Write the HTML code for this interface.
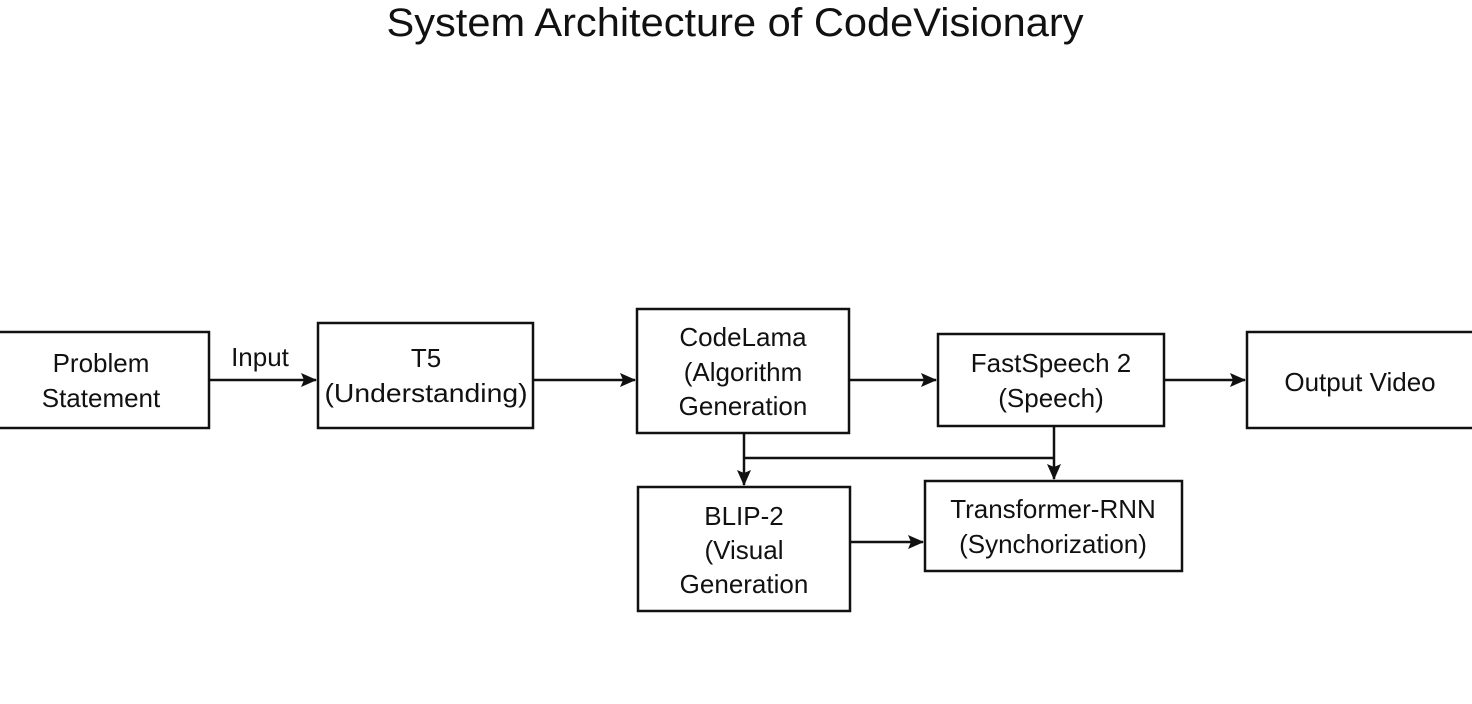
<!DOCTYPE html>
<html><head><meta charset="utf-8"><style>
html,body{margin:0;padding:0;background:#fff;width:1472px;height:704px;overflow:hidden}
svg{display:block}
text{font-family:"Liberation Sans",Arial,sans-serif;fill:#111}
</style></head><body>
<svg width="1472" height="704" viewBox="0 0 1472 704">
<defs><marker id="a" markerWidth="16" markerHeight="14" refX="15" refY="7" orient="auto" markerUnits="userSpaceOnUse"><path d="M0,0 L16,7 L0,14 L3,7 Z" fill="#111"/></marker></defs>
<text x="735" y="36" font-size="40" text-anchor="middle" textLength="697" lengthAdjust="spacingAndGlyphs">System Architecture of CodeVisionary</text>
<g fill="none" stroke="#111" stroke-width="2.5">
<rect x="-2" y="332" width="211" height="96"/>
<rect x="318" y="323" width="215" height="105"/>
<rect x="637" y="309" width="212" height="124"/>
<rect x="938" y="334" width="226" height="92"/>
<rect x="1247" y="332" width="227" height="96"/>
<rect x="638" y="487" width="212" height="124"/>
<rect x="925" y="481" width="257" height="90"/>
</g>
<g stroke="#111" stroke-width="2.5" fill="none">
<line x1="209" y1="380" x2="316" y2="380" marker-end="url(#a)"/>
<line x1="533" y1="380" x2="635" y2="380" marker-end="url(#a)"/>
<line x1="849" y1="380" x2="936" y2="380" marker-end="url(#a)"/>
<line x1="1164" y1="380" x2="1245" y2="380" marker-end="url(#a)"/>
<line x1="744" y1="433" x2="744" y2="485" marker-end="url(#a)"/>
<line x1="744" y1="458" x2="1054" y2="458"/>
<line x1="1054" y1="426" x2="1054" y2="479" marker-end="url(#a)"/>
<line x1="850" y1="542" x2="923" y2="542" marker-end="url(#a)"/>
</g>
<g font-size="26" text-anchor="middle">
<text x="260" y="366">Input</text>
<text x="101" y="372">Problem</text><text x="101" y="407">Statement</text>
<text x="426" y="367">T5</text><text x="426" y="402" textLength="203" lengthAdjust="spacingAndGlyphs">(Understanding)</text>
<text x="743" y="346">CodeLama</text><text x="743" y="381">(Algorithm</text><text x="743" y="415">Generation</text>
<text x="1051" y="372">FastSpeech 2</text><text x="1051" y="407">(Speech)</text>
<text x="1360" y="391">Output Video</text>
<text x="744" y="525">BLIP-2</text><text x="744" y="559">(Visual</text><text x="744" y="593">Generation</text>
<text x="1053" y="518">Transformer-RNN</text><text x="1053" y="553">(Synchorization)</text>
</g>
</svg>
</body></html>
